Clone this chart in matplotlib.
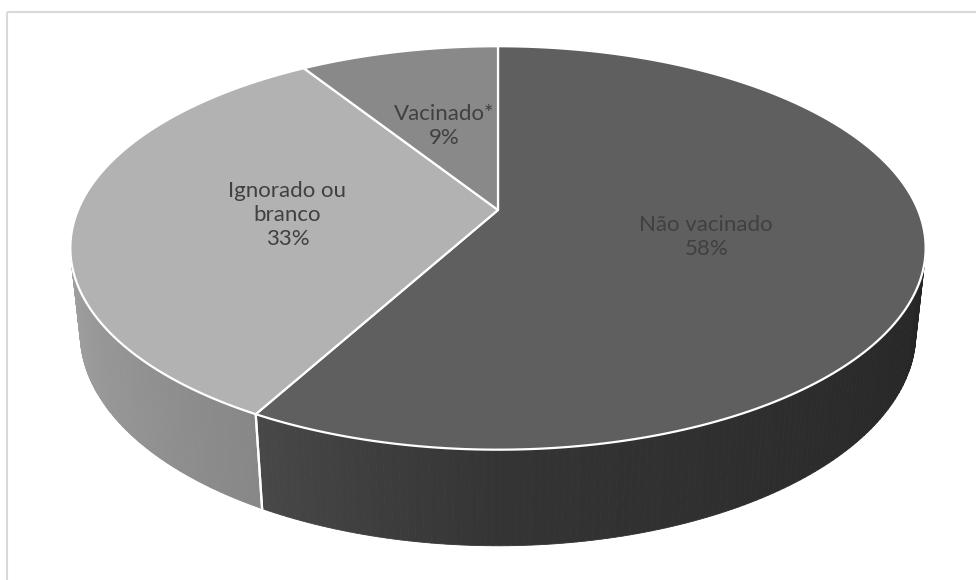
import textwrap
import numpy as np
import matplotlib
matplotlib.use("Agg")
import matplotlib.pyplot as plt
from matplotlib.patches import Polygon, Rectangle
from matplotlib.collections import PolyCollection

plt.rcParams['font.family'] = ['Lato', 'DejaVu Sans']

# data (clockwise from 12 o'clock)
categories = ["Não vacinado", "Ignorado ou branco", "Vacinado*"]
percents = [58, 33, 9]
top_colors = ["#5f5f5f", "#b2b2b2", "#898989"]

# 3D view setup (pixel layout)
cx, cy = 498, 210          # projected pie centre
R = 420                    # radius in px
elev = np.radians(27.6)
D = 4.71                   # camera distance (in radii)
h = 0.23                   # thickness (in radii)
se, ce = np.sin(elev), np.cos(elev)


def project(x, y, z):
    V = y * se + z * ce
    W = -y * ce + z * se
    s = D / (D - W)
    return cx + R * x * s, cy - R * V * s


def arc(a0, a1, z=0.0, n=200):
    t = np.radians(np.linspace(a0, a1, n))
    return project(np.cos(t), np.sin(t), z)


# side shading vs angle
def shade(t):
    return np.interp(t, [-166, -119, -90, -14], [0.9, 0.76, 0.55, 0.39])


fig = plt.figure(figsize=(9.76, 5.8), dpi=100)
ax = fig.add_axes([0, 0, 1, 1])
ax.set_xlim(0, 976)
ax.set_ylim(580, 0)
ax.axis('off')

# chart border
ax.add_patch(Rectangle((7, 12), 1000, 600, fill=False, ec='#d9d9d9', lw=1.5))

# slice angle ranges
fracs = np.array(percents) / sum(percents)
ends = 90 - 360 * np.cumsum(fracs)
starts = np.concatenate([[90], ends[:-1]])

# visible part of the cylinder wall
t_vis = np.degrees(np.arcsin(-1 / (D * ce)))
vis_lo, vis_hi = -180 - t_vis, t_vis

# side walls
for a_start, a_end, col in zip(starts, ends, top_colors):
    lo, hi = max(a_end, vis_lo), min(a_start, vis_hi)
    if lo >= hi:
        continue
    ts = np.linspace(lo, hi, 120)
    base = np.array(matplotlib.colors.to_rgb(col))
    polys, cols = [], []
    for t0, t1 in zip(ts[:-1], ts[1:]):
        xt, yt = arc(t0, t1, 0, 3)
        xb, yb = arc(t1, t0, -h, 3)
        polys.append(np.column_stack([np.r_[xt, xb], np.r_[yt, yb]]))
        cols.append(np.clip(base * shade((t0 + t1) / 2), 0, 1))
    ax.add_collection(PolyCollection(polys, facecolors=cols, edgecolors=cols, lw=0.6))
    # white seam at slice boundary
    for t in (lo, hi):
        if t in (a_start, a_end):
            x0, y0 = arc(t, t, 0, 1)
            x1, y1 = arc(t, t, -h, 1)
            ax.plot([x0[0], x1[0]], [y0[0], y1[0]], color='white', lw=1.6)

# top faces
for a_start, a_end, col in zip(starts, ends, top_colors):
    xa, ya = arc(a_start, a_end)
    pts = np.column_stack([np.r_[cx, xa], np.r_[cy, ya]])
    ax.add_patch(Polygon(pts, closed=True, fc=col, ec='white', lw=1.6, joinstyle='round'))

# labels
for name, pct, a_start, a_end in zip(categories, percents, starts, ends):
    mid = np.radians((a_start + a_end) / 2)
    lx, ly = project(0.5 * np.cos(mid), 0.5 * np.sin(mid), 0)
    ax.text(lx, ly + 2, textwrap.fill(name, 12) + f"\n{pct}%", ha='center', va='center',
            multialignment='center', fontsize=16, color='#404040', linespacing=1.27)

fig.savefig("out.png", dpi=100)
